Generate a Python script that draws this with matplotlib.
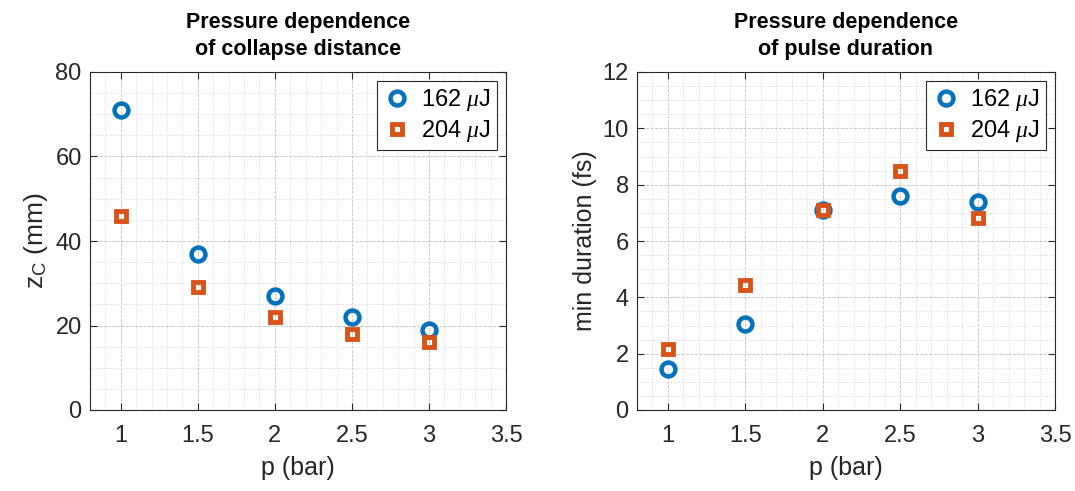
import numpy as np
import matplotlib.pyplot as plt
from matplotlib.ticker import MultipleLocator

plt.rcParams['font.family'] = ['Liberation Sans', 'DejaVu Sans']
plt.rcParams['mathtext.fontset'] = 'custom'
plt.rcParams['mathtext.rm'] = 'Liberation Sans'
plt.rcParams['mathtext.it'] = 'Liberation Serif:italic'

# Data
pressure = [1.0, 1.5, 2.0, 2.5, 3.0]
zc_162 = [71, 37, 27, 22, 19]
zc_204 = [46, 29, 22, 18, 16]
dur_162 = [1.45, 3.05, 7.1, 7.6, 7.4]
dur_204 = [2.15, 4.45, 7.1, 8.5, 6.8]
labels = [r"162 $\mu$J", r"204 $\mu$J"]

blue = "#0072BD"
orange = "#D95319"

fig = plt.figure(figsize=(10.75, 4.91), dpi=100)
ax1 = fig.add_axes([90 / 1075, 1 - 410 / 491, 416 / 1075, 338 / 491])
ax2 = fig.add_axes([637 / 1075, 1 - 410 / 491, 418 / 1075, 338 / 491])


def style(ax, ymax, ymajor, yminor):
    ax.set_xlim(0.8, 3.5)
    ax.set_ylim(0, ymax)
    ax.xaxis.set_minor_locator(MultipleLocator(0.1))
    ax.yaxis.set_major_locator(MultipleLocator(ymajor))
    ax.yaxis.set_minor_locator(MultipleLocator(yminor))
    ax.set_xticks([1, 1.5, 2, 2.5, 3, 3.5])
    ax.set_xticklabels(["1", "1.5", "2", "2.5", "3", "3.5"])
    ax.grid(True, which="major", color="#c0c0c0", linestyle="--", linewidth=0.6)
    ax.grid(True, which="minor", color="#d4d4d4", linestyle=":", linewidth=0.7)
    ax.tick_params(which="both", direction="in", top=True, right=True,
                   labelsize=17, colors="#262626", labelcolor="#262626", pad=6)
    ax.tick_params(axis="x", pad=11)
    ax.tick_params(which="major", length=5)
    ax.tick_params(which="minor", length=0)
    for s in ax.spines.values():
        s.set_color("#262626")
        s.set_linewidth(0.8)
    ax.set_axisbelow(True)


def points(ax, y1, y2):
    ax.plot(pressure, y1, linestyle="none", marker="o", markersize=10,
            markerfacecolor="none", markeredgecolor=blue, markeredgewidth=3.2,
            label=labels[0])
    ax.plot(pressure, y2, linestyle="none", marker="s", markersize=7.5,
            markerfacecolor="none", markeredgecolor=orange, markeredgewidth=3.5,
            label=labels[1])
    leg = ax.legend(loc="upper right", fontsize=17, fancybox=False,
                    edgecolor="#262626", framealpha=1, handletextpad=0.4,
                    borderaxespad=0.4, handlelength=1.2, borderpad=0.25,
                    labelspacing=0.2)
    leg.get_frame().set_linewidth(0.8)


points(ax1, zc_162, zc_204)
style(ax1, 80, 20, 5)
ax1.set_xlabel("p (bar)", fontsize=18, color="#262626", labelpad=6)
ax1.set_ylabel(r"z$_\mathrm{C}$ (mm)", fontsize=19, color="#262626")
ax1.set_title("Pressure dependence\nof collapse distance", fontsize=15.5,
              fontweight="bold", linespacing=1.4, pad=12)

points(ax2, dur_162, dur_204)
style(ax2, 12, 2, 0.5)
ax2.set_xlabel("p (bar)", fontsize=18, color="#262626", labelpad=6)
ax2.set_ylabel("min duration (fs)", fontsize=18, color="#262626")
ax2.set_title("Pressure dependence\nof pulse duration", fontsize=15.5,
              fontweight="bold", linespacing=1.4, pad=12)

fig.savefig("out.png", dpi=100)
plt.close(fig)
